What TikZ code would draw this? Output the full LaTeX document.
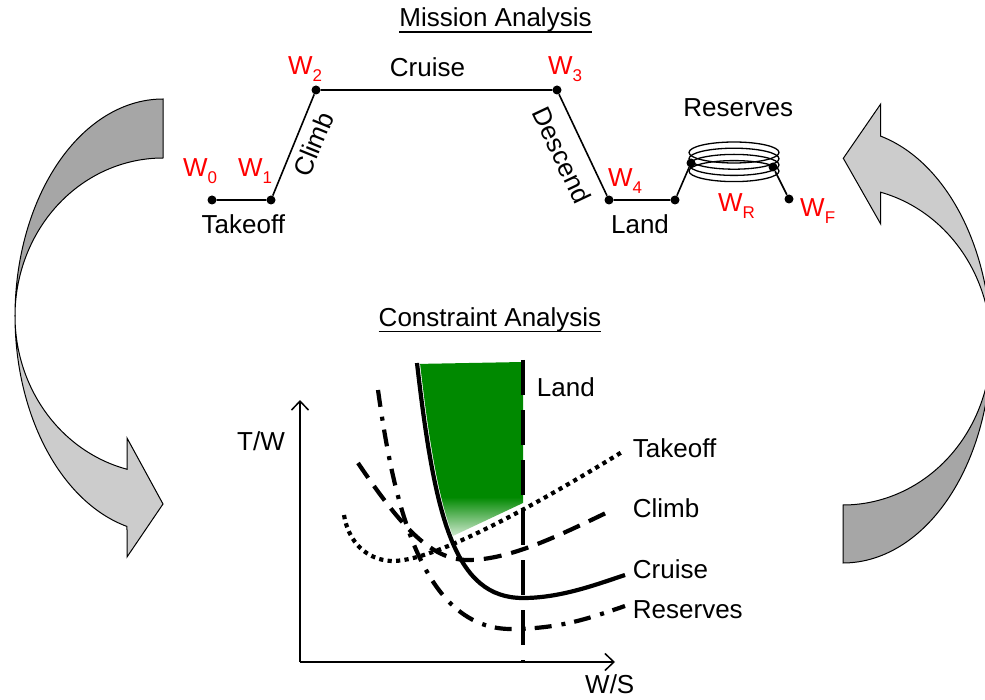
\documentclass[tikz,border=0pt]{standalone}
\usepackage{fontspec}
\setmainfont{Liberation Sans}
\usetikzlibrary{arrows.meta}

\definecolor{bandlight}{RGB}{204,204,204}
\definecolor{banddark}{RGB}{166,166,166}
\definecolor{feasible}{RGB}{0,137,0}
\definecolor{wred}{RGB}{255,0,0}

% weight label with a lowered index
\newcommand{\wsub}[1]{W\raisebox{-7pt}{\fontsize{17}{17}\selectfont #1}}

\begin{document}
\begin{tikzpicture}[x=1pt,y=-1pt,
  every node/.style={inner sep=0pt, font=\fontsize{26}{30}\selectfont},
  wlbl/.style={text=wred, anchor=base west},
  lbl/.style={text=black, anchor=base},
  clbl/.style={text=black, anchor=base west},
  pt/.style={circle, fill=black, minimum size=9pt, inner sep=0pt},
  seg/.style={line width=1.6pt},
  coil/.style={line width=1.3pt},
  band/.style={draw=black, line width=1pt, line join=miter},
  axis/.style={line width=1.5pt, -{Straight Barb[length=9pt,width=17pt]}},
  cruiseline/.style={line width=4.2pt},
  takeoffline/.style={line width=4.2pt, dash pattern=on 4.2pt off 4.3pt},
  climbline/.style={line width=4.2pt, dash pattern=on 18pt off 10pt},
  reserveline/.style={line width=4.2pt, dash pattern=on 17pt off 10pt on 4pt off 9pt},
  landline/.style={line width=4.2pt, dash pattern=on 35pt off 15pt},
]
\useasboundingbox (0,0) rectangle (985,700);
\clip (0,0) rectangle (985,700);

% ---------- left curved arrow (mission -> constraint) ----------
\filldraw[band, fill=banddark]
  plot[domain=-90:-180, samples=60, variable=\t] ({163+148*cos(\t)},{316+217*sin(\t)})
  -- plot[domain=180:270, samples=60, variable=\t] ({163+148*cos(\t)},{316+158*sin(\t)})
  -- cycle;
\filldraw[band, fill=bandlight]
  plot[domain=180:104.08, samples=60, variable=\t] ({163+148*cos(\t)},{316+217*sin(\t)})
  -- (127,557) -- (163,504) -- (127,438)
  -- plot[domain=104.08:180, samples=60, variable=\t] ({163+148*cos(\t)},{316+158*sin(\t)})
  -- cycle;

% ---------- right curved arrow (constraint -> mission) ----------
\filldraw[band, fill=banddark]
  plot[domain=90:0, samples=60, variable=\t] ({843+148*cos(\t)},{346+217*sin(\t)})
  -- plot[domain=0:90, samples=60, variable=\t] ({843+148*cos(\t)},{346+159*sin(\t)})
  -- cycle;
\filldraw[band, fill=bandlight]
  plot[domain=0:-75.24, samples=60, variable=\t] ({843+148*cos(\t)},{346+217*sin(\t)})
  -- (880.7,104) -- (843.3,158.3) -- (880.7,224)
  -- plot[domain=-75.24:0, samples=60, variable=\t] ({843+148*cos(\t)},{346+159*sin(\t)})
  -- cycle;

% ---------- mission profile ----------
\node[lbl] (mtitle) at (495.5,27) {Mission Analysis};
\draw[line width=1.5pt] ([yshift=-5pt]mtitle.base west) -- ([yshift=-5pt]mtitle.base east);

% holding pattern for the reserves
\foreach \k in {0,1,2,3}
  \draw[coil] (734,{152.5+6.2*\k}) ellipse [x radius=45, y radius=10.5];

\node[pt] (w0) at (212,200) {};
\node[pt] (w1) at (271,200) {};
\node[pt] (w2) at (316,90) {};
\node[pt] (w3) at (557,90) {};
\node[pt] (w4) at (609,200) {};
\node[pt] (l1) at (675,200) {};
\node[pt] (r1) at (691,163) {};
\node[pt] (r2) at (773,167) {};
\node[pt] (wf) at (789,199) {};

\draw[seg] (w0) -- (w1) -- (w2) -- (w3) -- (w4) -- (l1) -- (r1);
\draw[seg] (r2) -- (wf);

\node[wlbl] (lw0) at (183,177) {\wsub{0}};
\node[wlbl] (lw1) at (238,177) {\wsub{1}};
\node[wlbl] (lw2) at (288,75) {\wsub{2}};
\node[wlbl] (lw3) at (548,75) {\wsub{3}};
\node[wlbl] (lw4) at (608,187) {\wsub{4}};
\node[wlbl] (lwr) at (718,212) {\wsub{R}};
\node[wlbl] (lwf) at (800,217) {\wsub{F}};

\node[lbl] (ltakeoff) at (243.3,233.3) {Takeoff};
\node[lbl] (lcruise) at (427.5,76.7) {Cruise};
\node[lbl] (lland) at (640,234) {Land};
\node[lbl] (lreserve) at (738.3,116.7) {Reserves};
\node[rotate=67.7] (lclimb) at (313.5,144) {Climb};
\node[rotate=-64.7] (ldescend) at (562,155) {Descend};

% ---------- constraint diagram ----------
\node[lbl] (ctitle) at (490,326.7) {Constraint Analysis};
\draw[line width=1.5pt] ([yshift=-5pt]ctitle.base west) -- ([yshift=-5pt]ctitle.base east);

\coordinate (origin) at (300,662);
\coordinate (ytop) at (300,400);
\coordinate (xend) at (615,662);

% feasible design space
\begin{scope}
  \clip (420,330) -- (420,363) .. controls (438,520) and (458,598) .. (526,598) -- (526,330) -- cycle;
  \clip (415,364) -- (523,362) -- (523,503) -- (420,551.5) -- cycle;
  \fill[feasible] (410,355) rectangle (530,497);
  \shade[top color=feasible, bottom color=white] (410,497) rectangle (530,545);
\end{scope}

\coordinate (to0) at (344,515);
\coordinate (to1) at (622,452);
\coordinate (cl0) at (358,463);
\coordinate (cl1) at (608,512);
\coordinate (rs0) at (378,390);
\coordinate (rs1) at (625,606);
\coordinate (cr0) at (417,363);
\coordinate (cr1) at (625,575);
\coordinate (ld0) at (523,360);
\coordinate (ld1) at (523,662);

\draw[takeoffline] (to0) .. controls (350,550) and (375,561) .. (393,561)
  .. controls (440,561) and (560,490) .. (to1);
\draw[climbline] (cl0) .. controls (400,525) and (430,560) .. (468,560)
  .. controls (510,560) and (560,535) .. (cl1);
\draw[reserveline] (rs0) .. controls (392,490) and (418,628) .. (510,629)
  .. controls (560,629) and (590,618) .. (rs1);
\draw[cruiseline] (cr0) .. controls (435,520) and (455,598) .. (523,598)
  .. controls (560,598) and (595,585) .. (cr1);
\draw[landline] (ld0) -- (ld1);

\draw[axis] (origin) -- (ytop);
\draw[axis] (origin) -- (xend);

\node[text=black, anchor=base east] (ltw) at (285,450) {T/W};
\node[clbl] (lws) at (585,693.3) {W/S};
\node[clbl] (cland) at (536.7,396) {Land};
\node[clbl] (ctakeoff) at (632.7,457.3) {Takeoff};
\node[clbl] (cclimb) at (632.7,517.3) {Climb};
\node[clbl] (ccruise) at (632.7,578.3) {Cruise};
\node[clbl] (creserve) at (632.7,618.3) {Reserves};
\end{tikzpicture}
\end{document}
